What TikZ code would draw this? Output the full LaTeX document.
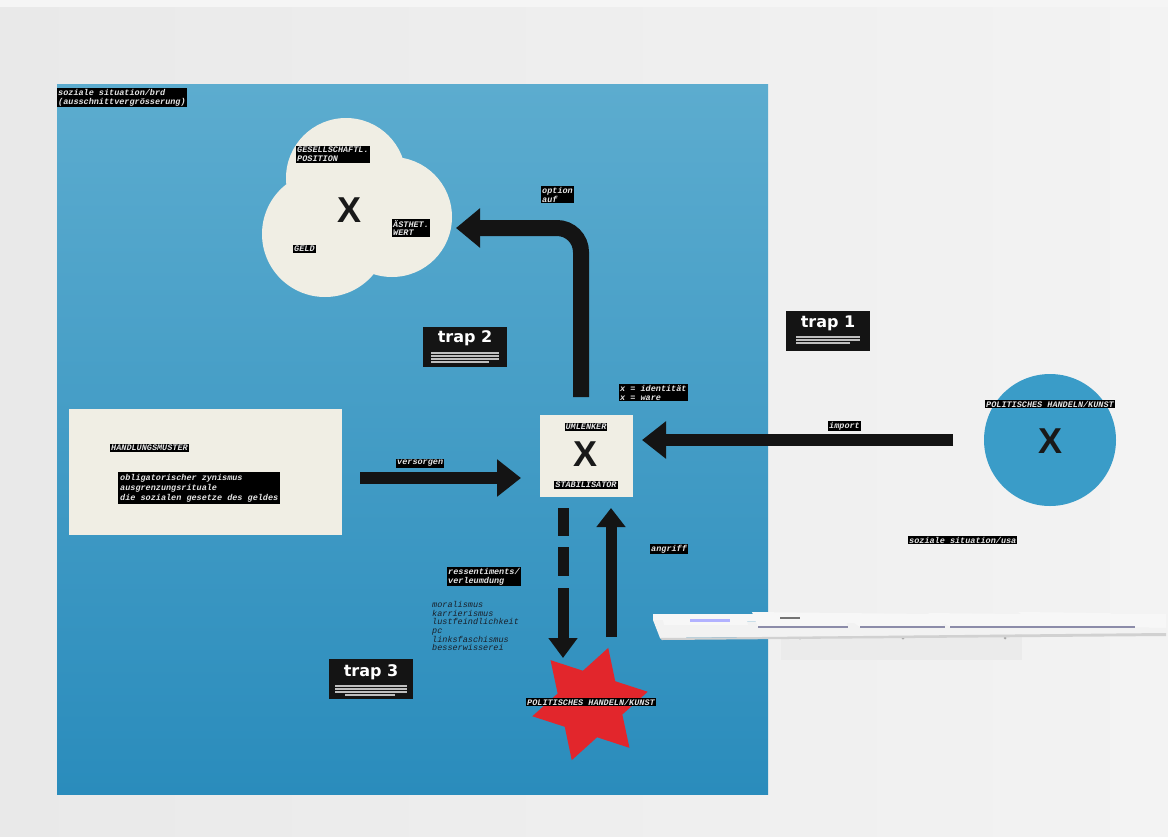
\documentclass[tikz,border=0pt]{standalone}
\usepackage{fontspec}
\setmonofont{Liberation Mono}
\newfontfamily\xfont{Liberation Sans}
\newfontfamily\trapfont{DejaVu Sans}
\usetikzlibrary{arrows.meta,shapes.geometric}
\definecolor{wallL}{RGB}{233,233,233}
\definecolor{wallR}{RGB}{243,243,243}
\definecolor{paneltop}{RGB}{92,172,207}
\definecolor{panelbot}{RGB}{42,140,188}
\definecolor{circblue}{RGB}{58,156,200}
\definecolor{cream}{RGB}{240,238,228}
\definecolor{starred}{RGB}{226,38,44}
\definecolor{labtxt}{RGB}{228,228,228}
\definecolor{listtxt}{RGB}{25,30,40}
\tikzset{
  lab/.style={fill=black, text=labtxt, inner sep=1pt, align=left,
    font=\ttfamily\bfseries\itshape\fontsize{8.5}{8.8}\selectfont},
  listtext/.style={text=listtxt, inner sep=0pt, align=left,
    font=\ttfamily\itshape\fontsize{8.5}{8.7}\selectfont},
  bigx/.style={font=\xfont\bfseries\fontsize{36}{36}\selectfont, inner sep=0pt, text=black!90},
  trapbox/.style={fill=black!92, minimum width=84pt, minimum height=40pt, inner sep=0pt, anchor=north west},
  traptitle/.style={text=white, font=\trapfont\bfseries\fontsize{16}{16}\selectfont, inner sep=0pt},
  fine/.style={draw=black!25, line width=1.1pt},
  thick arrow/.style={draw=black!92, line width=12pt, -{Triangle[width=36pt,length=24pt]}},
  thick line/.style={draw=black!92, line width=11pt},
  sheet/.style={fill=white!97!black, draw=none},
}
\begin{document}
\begin{tikzpicture}[x=1pt,y=-1pt]
\useasboundingbox (0,0) rectangle (1168,836);
% wall
\shade[left color=wallL, right color=wallR] (0,0) rectangle (1168,836);
\fill[white!96!black] (0,0) rectangle (1168,7);
% blue panel
\shade[top color=paneltop, bottom color=panelbot] (57,84) rectangle (768,794);

% title label
\node[lab, anchor=north west] (brd) at (57,88) {soziale situation/brd\\(ausschnittvergrösserung)};

% cloud of three circles
\fill[cream] (346,178) circle (60) (325,234) circle (63) (392,217) circle (60);
\node[bigx] (xcloud) at (350,210) {X};
\node[lab, anchor=north west] (gesell) at (296,146) {GESELLSCHAFTL.\\POSITION};
\node[lab, anchor=north west] (aesth) at (392,219) {ÄSTHET.\\WERT};
\node[lab, anchor=north west] (geld) at (293,245) {GELD};
\coordinate (cloudtip) at (456,228);

% option label
\node[lab, anchor=north west] (option) at (541,186) {option\\auf};

% trap boxes
\node[trapbox] (trap2) at (423,327) {};
\node[traptitle] (trap2t) at (465,338) {trap 2};
\foreach \yy/\xa/\xb in {353/431/499,356/431/499,359/431/499,362/431/489}
  \draw[fine] (\xa,\yy) -- (\xb,\yy);
\node[trapbox] (trap1) at (786,311) {};
\node[traptitle] (trap1t) at (828,323) {trap 1};
\foreach \yy/\xa/\xb in {337/796/860,340/796/860,343/796/850}
  \draw[fine] (\xa,\yy) -- (\xb,\yy);
\node[trapbox] (trap3) at (329,659) {};
\node[traptitle] (trap3t) at (371,672) {trap 3};
\foreach \yy/\xa/\xb in {686/335/407,689/335/407,692/335/407,695/345/395}
  \draw[fine] (\xa,\yy) -- (\xb,\yy);

% central box
\node[fill=cream, minimum width=93pt, minimum height=82pt, inner sep=0pt, anchor=north west] (um) at (540,415) {};
\node[bigx] (xum) at (586,454) {X};
\node[lab] (umlenker) at (586,427) {UMLENKER};
\node[lab] (stab) at (586,485) {STABILISATOR};
\node[lab, anchor=north west] (ident) at (619,384) {x = identität\\x = ware};

% option arrow from center box up and left to the cloud
\coordinate (optstart) at (581,397);
\draw[draw=black!92, line width=16pt, rounded corners=24pt, -{Triangle[width=38pt,length=24pt]}]
  (optstart) |- (cloudtip);

% Handlungsmuster panel
\node[fill=cream, minimum width=273pt, minimum height=126pt, inner sep=0pt, anchor=north west] (hm) at (69,409) {};
\node[lab, anchor=north west] (hmlab) at (110,444) {HANDLUNGSMUSTER};
\node[lab, anchor=north west, inner sep=2pt, font=\ttfamily\bfseries\itshape\fontsize{8.5}{10}\selectfont] (hmlist) at (118,472) {obligatorischer zynismus\\ausgrenzungsrituale\\die sozialen gesetze des geldes};

% versorgen arrow
\coordinate (vsA) at (360,478);
\coordinate (vsB) at (521,478);
\draw[thick arrow] (vsA) -- (vsB);
\node[lab, anchor=north west] (versorgen) at (396,459) {versorgen};

% right circle (usa)
\fill[circblue] (1050,440) circle (66);
\node[bigx] (xusa) at (1050,441) {X};
\node[lab] (polusa) at (1050,404) {POLITISCHES HANDELN/KUNST};
\node[lab, anchor=north west] (usa) at (908,536) {soziale situation/usa};

% import arrow
\coordinate (imA) at (953,440);
\coordinate (imB) at (642,440);
\draw[thick arrow] (imA) -- (imB);
\node[lab, anchor=north west] (import) at (828,421) {import};

% red star
\fill[starred, shift={(590,704)}] (-12:59) -- (-42:34) -- (-72:59) -- (-102:34)
  -- (-132:59) -- (-162:34) -- (-192:59) -- (-222:34) -- (-252:59) -- (-282:34)
  -- (-312:59) -- (-342:34) -- cycle;

% dashed arrow down (ressentiments)
\coordinate (dA) at (563,508);
\coordinate (dB) at (563,536);
\coordinate (dC) at (563,547);
\coordinate (dD) at (563,576);
\coordinate (dE) at (563,588);
\coordinate (dF) at (563,658);
\draw[thick line] (dA) -- (dB);
\draw[thick line] (dC) -- (dD);
\draw[thick line, -{Triangle[width=28pt,length=20pt]}] (dE) -- (dF);
\node[lab, anchor=north west] (ress) at (447,567) {ressentiments/\\verleumdung};
\node[listtext, anchor=north west] (list) at (432,601) {moralismus\\karrierismus\\lustfeindlichkeit\\pc\\linksfaschismus\\besserwisserei};

\node[lab] (polbrd) at (591,702) {POLITISCHES HANDELN/KUNST};

% angriff arrow up
\coordinate (agA) at (611,637);
\coordinate (agB) at (611,508);
\draw[thick line, -{Triangle[width=28pt,length=19pt]}] (agA) -- (agB);
\node[lab, anchor=north west] (angriff) at (650,544) {angriff};

% shelf
\fill[black!8] (781,630) rectangle (1022,660);
\fill[black!14] (781,630) rectangle (1022,634);
\foreach \sx in {800,903,1005} \fill[black!35] (\sx,638) circle (1.5);
\fill[black!3] (653,614) -- (1166,614) -- (1166,628) -- (653,620) -- cycle;
\fill[white!95!black] (653,620) -- (1166,628) -- (1166,633) -- (660,638) -- cycle;
\fill[black!18] (660,638) -- (1166,633) -- (1166,636) -- (662,640) -- cycle;
% sheets
\fill[sheet] (662,616) -- (746,616) -- (748,625) -- (664,625) -- cycle;
\fill[blue!30!white] (690,619) rectangle (730,622);
\fill[sheet] (752,612) -- (843,613) -- (848,627) -- (758,627) -- cycle;
\fill[black!55] (780,617) rectangle (800,619);
\fill[sheet] (840,613) -- (930,614) -- (945,627) -- (860,627) -- cycle;
\fill[sheet] (928,613) -- (1018,614) -- (1040,627) -- (950,627) -- cycle;
\fill[sheet] (1018,612) -- (1110,613) -- (1135,626) -- (1040,626) -- cycle;
\foreach \xa/\xb in {758/848,860/945,950/1040,1040/1135}
  \fill[blue!25!black!45] (\xa,626) rectangle (\xb,628);
\end{tikzpicture}
\end{document}
